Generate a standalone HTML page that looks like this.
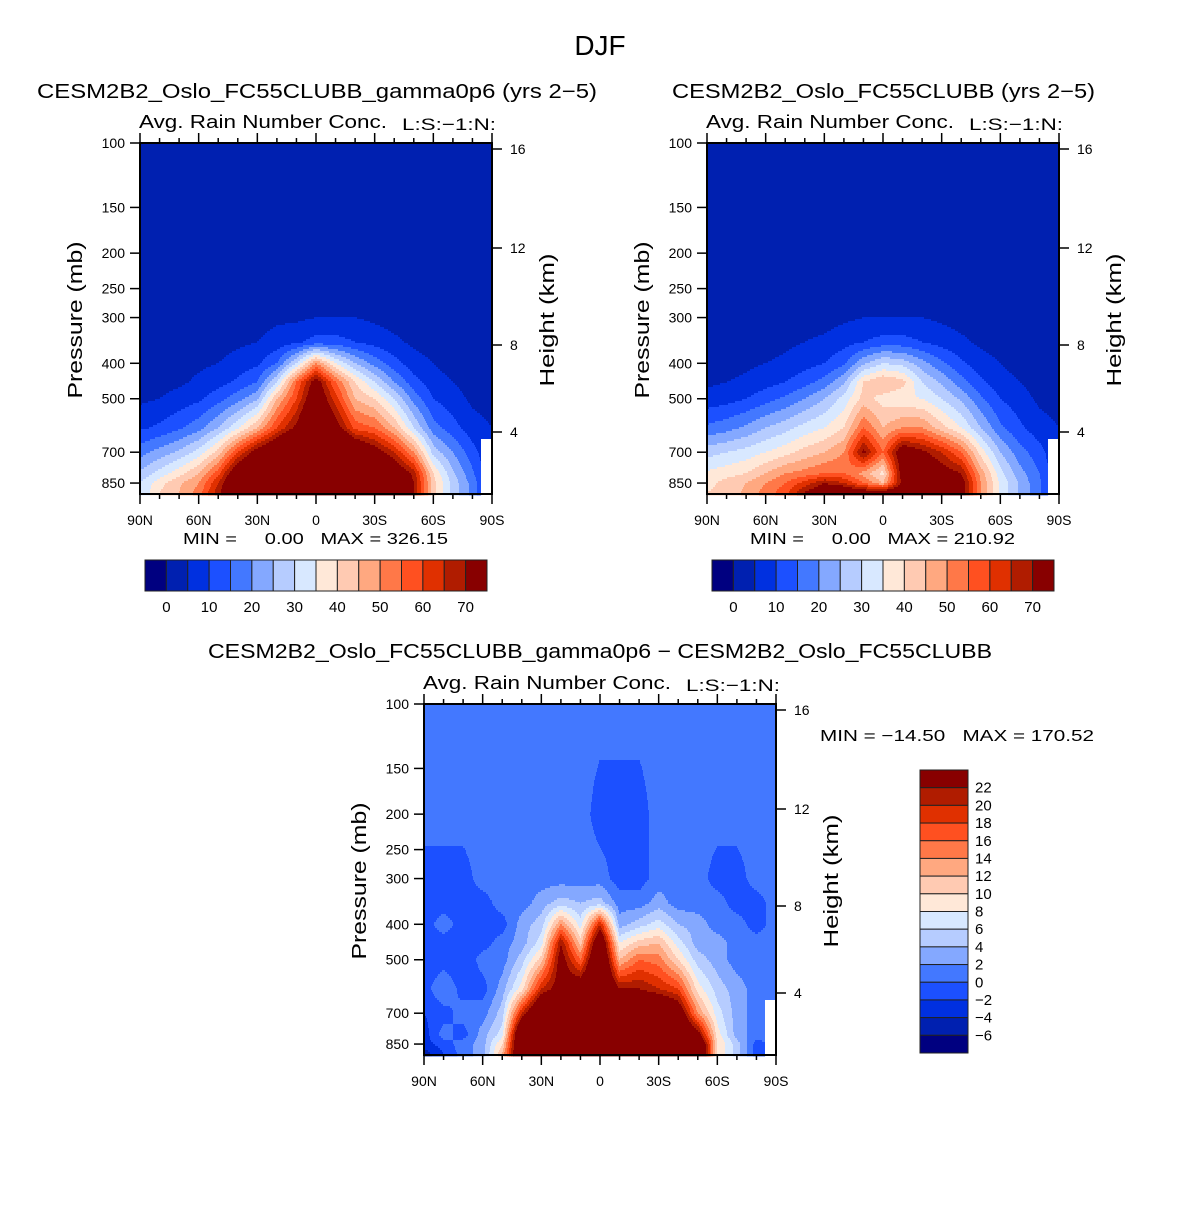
<!DOCTYPE html>
<html><head><meta charset="utf-8">
<style>
html,body{margin:0;padding:0;background:#fff;}
svg text{font-family:"Liberation Sans",sans-serif;fill:#000;white-space:pre;}
</style></head>
<body>
<svg id="svg" width="1200" height="1202" viewBox="0 0 1200 1202" xmlns="http://www.w3.org/2000/svg">
<text x="600" y="55" font-size="28" text-anchor="middle">DJF</text>
<g id="root"></g>
</svg>
<script>
const lats=[90,80,70,60,50,40,30,20,10,0,-10,-20,-30,-40,-50,-60,-70,-80,-90];
const plevs=[100,200,300,350,400,450,500,600,700,800,850,900];
const N=NaN;
const field1=[
[2,2,2,2,2,3,4,9,18,26,30,30],
[2,2,2,2,2,3,5,11,22,32,38,40],
[2,2,2,2,3,4,7,14,26,38,44,45],
[2,2,2,3,4,6,9,18,32,45,50,52],
[2,2,2,3,5,8,13,25,42,58,65,68],
[2,2,3,4,7,11,18,34,60,80,85,85],
[2,2,3,5,9,15,24,45,75,90,95,95],
[2,2,4,7,15,30,45,60,85,100,100,100],
[2,2,4,9,30,55,60,72,100,100,100,100],
[2,2,5,12,50,75,80,90,100,100,100,100],
[2,2,5,12,35,55,62,75,100,100,100,100],
[2,2,5,10,25,40,45,58,85,100,100,100],
[2,2,4,8,18,30,40,55,75,95,100,100],
[2,2,3,6,12,20,30,45,65,80,90,90],
[2,2,3,4,7,12,18,30,50,68,70,70],
[2,2,2,3,5,7,10,17,28,40,42,42],
[2,2,2,2,3,5,7,12,20,26,28,28],
[2,2,2,2,2,3,4,7,12,16,18,18],
[2,2,2,2,2,2,3,5,N,N,N,N]];
const field2=[
[2,2,2,2,3,4,7,16,28,36,38,40],
[2,2,2,2,3,5,8,18,30,38,42,42],
[2,2,2,3,4,6,10,21,32,40,45,46],
[2,2,2,3,5,8,13,25,35,45,50,52],
[2,2,3,4,6,10,16,28,38,50,55,58],
[2,2,3,5,8,13,20,32,42,52,62,70],
[2,2,3,6,10,17,25,35,45,55,70,78],
[2,2,4,8,14,24,32,40,50,55,65,80],
[2,2,5,10,24,40,42,55,72,48,55,75],
[2,2,5,12,30,45,38,45,55,38,45,75],
[2,2,5,12,28,42,36,50,78,75,72,80],
[2,2,5,10,22,30,35,50,72,80,80,85],
[2,2,4,8,16,24,30,42,65,75,78,80],
[2,2,3,6,11,17,24,35,55,70,75,75],
[2,2,3,4,7,11,16,25,38,48,50,50],
[2,2,2,3,5,7,10,16,25,32,34,34],
[2,2,2,2,3,5,7,11,17,22,24,24],
[2,2,2,2,2,3,4,7,12,15,16,16],
[2,2,2,2,2,2,3,5,N,N,N,N]];
const field3=[
[1,1,-1,-1,-1,-1,-2,-1,-2,-3,-3,-5],
[1,1,-1,-1,1,-1,-1,2,-1,1,-1,-2],
[1,1,-1,-1,-1,-1,-2,-1,1,-1,1,1],
[1,1,1,-1,-1,-1,1,-1,1,3,3,3],
[1,1,1,1,-1,1,1,3,5,7,10,12],
[1,1,1,1,3,3,5,9,20,30,30,30],
[1,1,1,3,5,7,11,20,30,30,30,30],
[1,1,1,5,14,22,24,24,30,30,30,30],
[1,1,1,4,7,11,16,26,30,30,30,30],
[1,-1,1,5,20,28,30,30,30,30,30,30],
[1,-1,-1,1,3,8,12,22,30,30,30,30],
[1,-1,-1,1,5,11,16,22,30,30,30,30],
[1,1,1,3,7,12,15,20,30,30,30,30],
[1,1,1,1,4,7,10,18,26,30,30,30],
[1,1,1,1,3,3,5,9,14,24,30,30],
[1,1,-1,1,1,3,3,5,7,9,10,10],
[1,1,-1,-1,1,1,1,3,3,3,5,5],
[1,1,1,-1,-1,1,1,1,1,1,-1,-1],
[1,1,1,1,1,1,1,1,N,N,N,N]];
const levels1=[0,5,10,15,20,25,30,35,40,45,50,55,60,65,70];
const levels3=[-6,-4,-2,0,2,4,6,8,10,12,14,16,18,20,22];
const cbLabels1=["0","10","20","30","40","50","60","70"];
const cbLabels3=["22","20","18","16","14","12","10","8","6","4","2","0","\u22122","\u22124","\u22126"];
const colors=["#000080","#0020b0","#0030e0","#1c50ff","#4378ff","#84a8ff","#b6ccff","#d8e8ff","#ffe8d8","#ffcab2","#ffa880","#ff7848","#ff5020","#e03000","#b01c00","#880000"];
const presTicks=[100,150,200,250,300,400,500,700,850];
const hTicks=[[16,6],[12,105],[8,202],[4,289]];
const latTicks=[[90,"90N"],[60,"60N"],[30,"30N"],[0,"0"],[-30,"30S"],[-60,"60S"],[-90,"90S"]];

const NS="http://www.w3.org/2000/svg";
const root=document.getElementById('root');
function mk(tag,attrs,parent){const e=document.createElementNS(NS,tag);for(const k in attrs)e.setAttribute(k,attrs[k]);(parent||root).appendChild(e);return e;}
function txt(x,y,s,size,anchor,parent,len){const a={x:x,y:y,'font-size':size,'text-anchor':anchor||'start'};if(len){a.textLength=len;a.lengthAdjust='spacingAndGlyphs';}const t=mk('text',a,parent);t.textContent=s;return t;}

const PW=352,PH=351,LNK=158.9;
function pOfY(dy){return 100*Math.exp(dy/LNK);}
function yOfP(p){return Math.log(p/100)*LNK;}
function latOfX(dx){return 90-dx/PW*180;}
function sample(f,lat,p){
  let fi=(90-lat)/10; fi=Math.max(0,Math.min(18,fi));
  const lp=Math.log(p);let j=0;
  while(j<plevs.length-2&&Math.log(plevs[j+1])<lp)j++;
  let t=(lp-Math.log(plevs[j]))/(Math.log(plevs[j+1])-Math.log(plevs[j]));t=Math.max(0,Math.min(1,t));
  let i=Math.min(17,Math.floor(fi));const s=fi-i;
  const nj=t<0.5?j:j+1;
  if(fi>17.45&&isNaN(f[18][nj]))return NaN;
  const g=(a,b)=>{let v=f[a][b];let bb=b;while(isNaN(v)&&bb>0){bb--;v=f[a][bb];}return v;};
  const top=g(i,j)*(1-s)+g(i+1,j)*s,bot=g(i,j+1)*(1-s)+g(i+1,j+1)*s;
  return top*(1-t)+bot*t;
}
function colIdx(v,lev){let k=0;while(k<lev.length&&v>=lev[k])k++;return k;}

function panel(x0,y0,f,lev,name){
  const g=mk('g',{});
  
  
  const step=2;
  for(let yy=0;yy<PH;yy+=step){
    const p=pOfY(yy+step/2);let runStart=0,runC=null;
    for(let xx=0;xx<=PW;xx++){
      let c=null;
      if(xx<PW){const v=sample(f,latOfX(xx+0.5),p);c=isNaN(v)?'#ffffff':colors[colIdx(v,lev)];}
      if(c!==runC){
        if(runC!==null){const r=mk('rect',{x:x0+runStart,y:y0+yy,width:xx-runStart+0.4,height:step+0.4,fill:runC},g);
          
          }
        runStart=xx;runC=c;}
    }
  }
  const fr=mk('rect',{x:x0,y:y0,width:PW,height:PH,fill:'none',stroke:'#000','stroke-width':2},g);
  
  
  for(let lat=90;lat>=-90;lat-=10){
    const x=x0+(90-lat)/180*PW;const major=lat%30===0;const L=major?10:5;
    mk('line',{x1:x,y1:y0+PH,x2:x,y2:y0+PH+L,stroke:'#000','stroke-width':1.5},g);
    mk('line',{x1:x,y1:y0,x2:x,y2:y0-L,stroke:'#000','stroke-width':1.5},g);
  }
  latTicks.forEach(([lat,l])=>{const t=txt(x0+(90-lat)/180*PW,y0+PH+31,l,14,'middle',g);
    
    });
  presTicks.forEach(p=>{const y=y0+yOfP(p);
    mk('line',{x1:x0,y1:y,x2:x0-10,y2:y,stroke:'#000','stroke-width':1.5},g);
    const t=txt(x0-15,y+5,String(p),14,'end',g);
    
    });
  hTicks.forEach(([h,dy])=>{const y=y0+dy;
    mk('line',{x1:x0+PW,y1:y,x2:x0+PW+10,y2:y,stroke:'#000','stroke-width':1.5},g);
    const t=txt(x0+PW+18,y+5,String(h),14,'start',g);
    
    });
  const yl=txt(0,0,'Pressure (mb)',20,'middle',g,157);yl.setAttribute('transform',`translate(${x0-58},${y0+177}) rotate(-90)`);
  
  
  const hl=txt(0,0,'Height (km)',20,'middle',g,133);hl.setAttribute('transform',`translate(${x0+PW+62},${y0+177}) rotate(-90)`);
  
  
  const st=txt(x0-1,y0-15,'Avg. Rain Number Conc.',18,'start',g,248);
  
  
  const ls=txt(x0+262,y0-13,'L:S:\u22121:N:',17,'start',g,94);
  
  
}
function hbar(x0,y0,name){
  const g=mk('g',{});
  
  
  const w=342/16;
  colors.forEach((c,k)=>{const r=mk('rect',{x:x0+k*w,y:y0,width:w,height:31,fill:c,stroke:'#222','stroke-width':1},g);
    
    });
  cbLabels1.forEach((l,k)=>{const t=txt(x0+(1+2*k)*w,y0+52,l,15,'middle',g);
    
    });
}
panel(140,143,field1,levels1,'panel-gamma0p6');
panel(707,143,field2,levels1,'panel-control');
panel(424,704,field3,levels3,'panel-difference');
hbar(145,560,'colorbar-gamma0p6');
hbar(712,560,'colorbar-control');
(function(){
  const g=mk('g',{});
  
  
  const x0=920,y0=770,h=283/16;
  for(let k=0;k<16;k++){const r=mk('rect',{x:x0,y:y0+k*h,width:48,height:h,fill:colors[15-k],stroke:'#222','stroke-width':1},g);
    
    }
  cbLabels3.forEach((l,k)=>{const t=txt(975,y0+(k+1)*h+5,l,15,'start',g);
    
    });
})();
function label(x,y,s,size,anchor,name,len){const t=txt(x,y,s,size,anchor,null,len);
  
  }
label(37,98,'CESM2B2_Oslo_FC55CLUBB_gamma0p6 (yrs 2\u22125)',20,'start','panel1-title',560);
label(672,98,'CESM2B2_Oslo_FC55CLUBB (yrs 2\u22125)',20,'start','panel2-title',423);
label(208,658,'CESM2B2_Oslo_FC55CLUBB_gamma0p6 \u2212 CESM2B2_Oslo_FC55CLUBB',20,'start','panel3-title',784);
label(183,544,'MIN =     0.00   MAX = 326.15',16,'start','panel1-minmax',265);
label(750,544,'MIN =     0.00   MAX = 210.92',16,'start','panel2-minmax',265);
label(820,741,'MIN = \u221214.50   MAX = 170.52',16,'start','panel3-minmax',274);
</script>
</body></html>
